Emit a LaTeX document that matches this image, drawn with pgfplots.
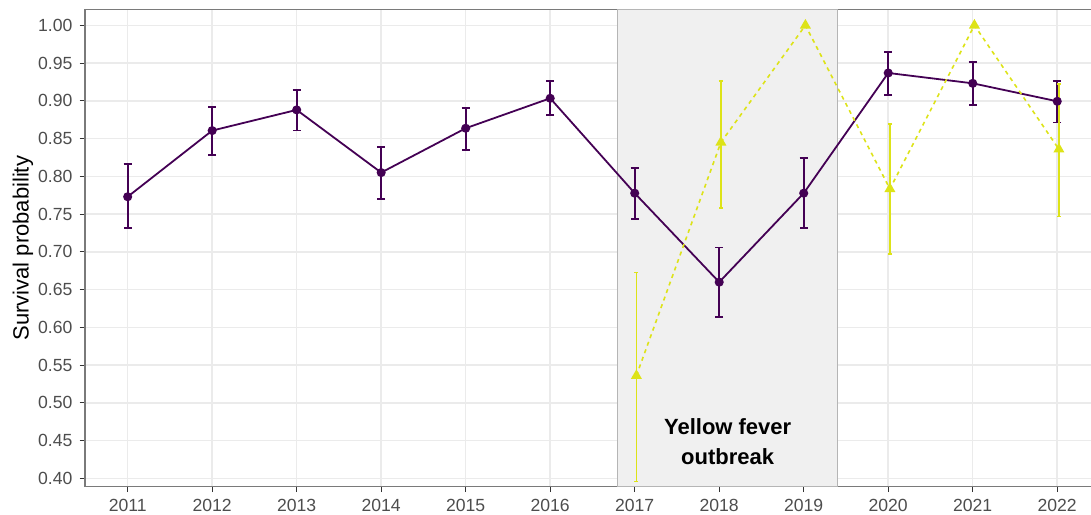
\documentclass[border=0pt]{standalone}
\usepackage{pgfplots}
\pgfplotsset{compat=1.18}
\usepackage{pgfplotstable}
\usepackage{fontspec}
\setmainfont{Liberation Sans}
\definecolor{vpurple}{HTML}{440154}
\definecolor{vyellow}{HTML}{DDE318}
\definecolor{gridc}{HTML}{EBEBEB}
\definecolor{ticklab}{HTML}{4D4D4D}
\definecolor{tickc}{HTML}{333333}
\definecolor{framec}{HTML}{7A7A7A}
\definecolor{rectfill}{HTML}{F0F0F0}
\definecolor{rectdraw}{HTML}{B5B5B5}

\pgfplotstableread{
x y ep em
2011 0.7730 0.0435 0.0417
2012 0.8606 0.0309 0.0326
2013 0.8880 0.0264 0.0274
2014 0.8050 0.0344 0.0353
2015 0.8637 0.0273 0.0287
2016 0.9034 0.0234 0.0221
2017 0.7777 0.0330 0.0345
2018 0.6599 0.0458 0.0464
2019 0.7777 0.0463 0.0464
2020 0.9369 0.0274 0.0287
2021 0.9232 0.0278 0.0286
2022 0.8994 0.0274 0.0282
}\purpledata

\pgfplotstableread{
x y ep em
2017.02 0.5360 0.1367 0.1400
2018.02 0.8450 0.0809 0.0872
2019.02 1.0000 0.0000 0.0000
2020.02 0.7834 0.0860 0.0865
2021.02 1.0000 0.0000 0.0000
2022.02 0.8359 0.0865 0.0891
}\yellowdata

\begin{document}
\begin{tikzpicture}
\useasboundingbox (-42.5pt,-13.65pt) rectangle (503pt,243.35pt);
\begin{axis}[
  at={(0,0)}, anchor=south west,
  scale only axis,
  width=507.45pt, height=238.5pt,
  xmin=2010.495, xmax=2022.505,
  ymin=0.389, ymax=1.0207,
  xtick={2011,2012,...,2022},
  ytick={0.40,0.45,...,1.001},
  xtick pos=bottom, ytick pos=left,
  /pgf/number format/assume math mode=true,
  xticklabel style={/pgf/number format/1000 sep={}, font=\fontsize{8.8}{10}\selectfont, text=ticklab},
  yticklabel style={/pgf/number format/fixed, /pgf/number format/fixed zerofill, /pgf/number format/precision=2, font=\fontsize{8.8}{10}\selectfont, text=ticklab},
  tick align=outside,
  major tick length=2.75pt,
  tick style={tickc, line width=0.5pt},
  grid=major,
  major grid style={gridc, line width=0.7pt},
  axis line style={framec, line width=0.6pt},
  ylabel={Survival probability},
  ylabel style={at={(axis description cs:-0.0611,0.5)}, anchor=center, rotate=0, font=\fontsize{11}{13}\selectfont},
  clip=false,
]
% outbreak period
\addplot[fill=rectfill, draw=rectdraw, line width=0.6pt] coordinates {(2016.8,0.389) (2016.8,1.0207) (2019.4,1.0207) (2019.4,0.389)} -- cycle;
\node[font=\fontsize{11}{15.2}\selectfont\bfseries, align=center] at (axis cs:2018.1,0.449) {Yellow fever\\outbreak};

% purple series
\addplot[vpurple, line width=0.9pt, mark=*, mark size=1.8pt,
  error bars/.cd, y dir=both, y explicit, error mark=|,
  error bar style={line width=0.9pt, vpurple},
  error mark options={line width=0.9pt, mark size=2pt, vpurple}]
  table[x=x, y=y, y error plus=ep, y error minus=em] {\purpledata};

% yellow series
\addplot[vyellow, line width=0.8pt, dash pattern=on 2pt off 2pt, mark=triangle*, mark size=2.4pt, mark options={solid},
  error bars/.cd, y dir=both, y explicit, error mark=|,
  error bar style={line width=0.9pt, solid, vyellow},
  error mark options={line width=0.9pt, mark size=1pt, solid, vyellow}]
  table[x=x, y=y, y error plus=ep, y error minus=em] {\yellowdata};
\end{axis}
\end{tikzpicture}
\end{document}
